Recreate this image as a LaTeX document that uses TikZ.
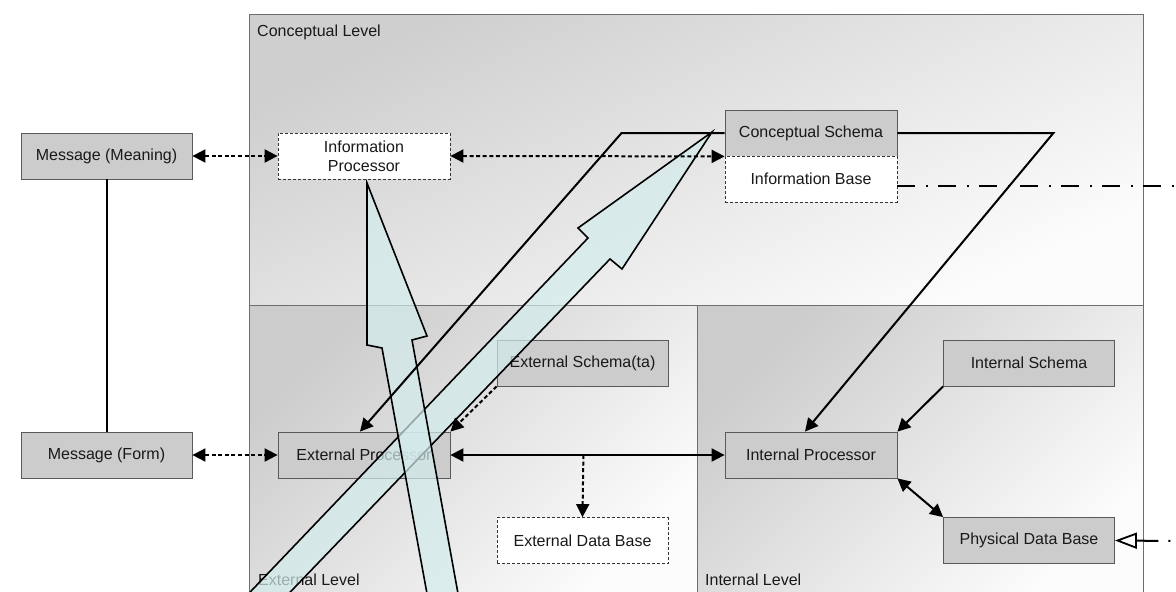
\documentclass[tikz,border=0pt]{standalone}
\usepackage{fontspec}
\setmainfont{Liberation Sans}
\usetikzlibrary{arrows.meta,calc}
\definecolor{boxfill}{RGB}{204,204,204}
\definecolor{boxline}{RGB}{90,90,90}
\definecolor{panelline}{RGB}{110,110,110}
\definecolor{bigfill}{RGB}{212,236,236}
\definecolor{txt}{RGB}{25,25,25}
\begin{document}
\begin{tikzpicture}[x=1pt,y=-1pt,
  box/.style={draw=boxline, line width=0.8pt, fill=boxfill, minimum width=171pt, minimum height=46pt,
    inner sep=0pt, text=txt, font=\fontsize{16}{19}\selectfont, align=center},
  dbox/.style={box, fill=white, draw=black!80, dash pattern=on 3pt off 2pt},
  lvl/.style={anchor=base west, inner sep=0pt, text=txt, font=\fontsize{16}{19}\selectfont},
  conn/.style={line width=2pt, black},
  dconn/.style={conn, dash pattern=on 4pt off 2.6pt},
  tipe/.style={-{Triangle[length=13pt,width=13pt]}},
  tipb/.style={{Triangle[length=13pt,width=13pt]}-{Triangle[length=13pt,width=13pt]}},
  bigarrow/.style={draw=black, line width=1.6pt, fill=bigfill, fill opacity=0.7, line join=miter},
  dashdot/.style={line width=2pt, dash pattern=on 18pt off 11pt on 2pt off 10pt}
]
\useasboundingbox (0,0) rectangle (1176,592);
\clip (0,0) rectangle (1176,592);
\fill[white] (0,0) rectangle (1176,592);

% panels
\shade[top color=black!19, middle color=black!8, bottom color=black!1, shading angle=25] (249,14) rectangle (1143,305);
\shade[top color=black!20, middle color=black!7, bottom color=black!1, shading angle=45] (249,305) rectangle (697,600);
\shade[top color=black!20, middle color=black!7, bottom color=black!1, shading angle=45] (697,305) rectangle (1143,600);
\draw[panelline, line width=1pt] (249,600) -- (249,14) -- (1143,14) -- (1143,600);
\draw[panelline, line width=1pt] (249,305) -- (1143,305);
\draw[panelline, line width=1pt] (697,305) -- (697,600);

% level labels
\node[lvl] (lc) at (257,36) {Conceptual Level};
\node[lvl] (le) at (258,585) {External Level};
\node[lvl] (li) at (705,585) {Internal Level};

% nodes
\node[box] (mm) at (106.5,156) {Message (Meaning)};
\node[box] (mf) at (106.5,455) {Message (Form)};
\node[dbox, minimum width=172pt] (ip) at (364,156) {Information\\Processor};
\node[box, minimum width=172pt] (cs) at (811,133) {Conceptual Schema};
\node[dbox, minimum width=172pt] (ib) at (811,179) {Information Base};
\node[box, minimum width=172pt] (ep) at (364,455) {External Processor};
\node[box] (es) at (582.5,363) {External Schema(ta)};
\node[dbox] (edb) at (582.5,540.5) {External Data Base};
\node[box] (is) at (1029,363) {Internal Schema};
\node[box, minimum width=172pt] (ipr) at (811,455) {Internal Processor};
\node[box] (pdb) at (1029,540.5) {Physical Data Base};

% big translucent arrows
\path[bigarrow] (712,132) -- (622,269) -- (610,259) -- (273,610) -- (233,610) -- (588,238) -- (578,228) -- cycle;
\path[bigarrow] (367,183) -- (427,336) -- (412,340) -- (461,610) -- (430,610) -- (382,348) -- (367,345) -- cycle;

% connectors
\draw[conn] (mm.south) -- (mf.north);
\draw[dconn, tipb] (mm.east) -- (ip.west);
\draw[dconn, tipb] (mf.east) -- (ep.west);
\draw[dconn, tipb] (ip.east) -- (cs.south west);
\draw[conn, tipb] (ep.east) -- (ipr.west);
\coordinate (mid) at ($(ep.east)!0.485!(ipr.west)$);
\draw[dconn, tipe] (mid) -- (edb.north);
\draw[dconn, tipe] (es.south west) -- (ep.north east);
\draw[conn, tipe] (is.south west) -- (ipr.north east);
\draw[conn, tipb] (ipr.south east) -- (pdb.north west);
\draw[conn, tipe, line join=miter] (cs.west) -- ++(-103,0) -- ($(ep.north)+(-4,0)$);
\draw[conn, tipe, line join=miter] (cs.east) -- ++(156,0) -- ($(ipr.north)+(-6,0)$);
\coordinate (ibr) at (1176,186);
\coordinate (pdr) at (1176,541);
\draw[dashdot] ($(ib.east)+(0,7)$) -- (ibr);
\draw[dashdot, dash pattern=on 22pt off 10pt on 2pt off 10pt, {Triangle[open,length=22pt,width=16pt,line width=1.8pt]}-] (pdb.east) -- (pdr);
\end{tikzpicture}
\end{document}
